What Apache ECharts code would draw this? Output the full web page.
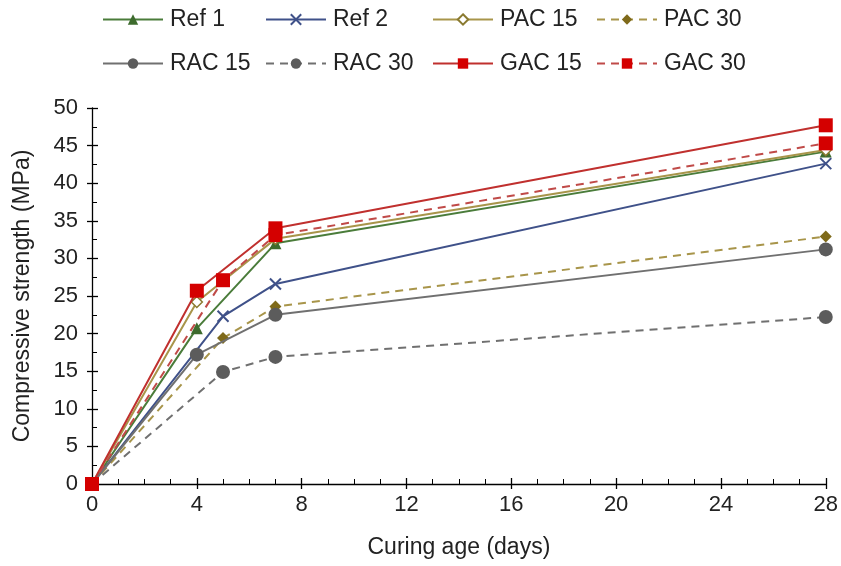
<!DOCTYPE html>
<html>
<head>
<meta charset="utf-8">
<script src="https://cdn.jsdelivr.net/npm/echarts@6/dist/echarts.min.js"></script>
<style>html,body{margin:0;padding:0;background:#fff}#c{width:841px;height:566px}</style>
</head>
<body>
<div id="c"></div>
<script>
// ---- data ----
const ref1Days = [0, 4, 7, 28];
const ref1 = [0, 20.7, 32.0, 44.2];
const ref2Days = [0, 5, 7, 28];
const ref2 = [0, 22.3, 26.6, 42.6];
const pac15Days = [0, 4, 7, 28];
const pac15 = [0, 24.2, 32.6, 44.4];
const pac30Days = [0, 5, 7, 28];
const pac30 = [0, 19.4, 23.6, 32.9];
const rac15Days = [0, 4, 7, 28];
const rac15 = [0, 17.2, 22.5, 31.2];
const rac30Days = [0, 5, 7, 28];
const rac30 = [0, 14.9, 16.9, 22.2];
const gac15Days = [0, 4, 7, 28];
const gac15 = [0, 25.7, 34.0, 47.7];
const gac30Days = [0, 5, 7, 28];
const gac30 = [0, 27.1, 33.1, 45.3];
const seriesNames = ['Ref 1', 'Ref 2', 'PAC 15', 'PAC 30', 'RAC 15', 'RAC 30', 'GAC 15', 'GAC 30'];
const xTitle = 'Curing age (days)';
const yTitle = 'Compressive strength (MPa)';

function pairs(xs, ys) { return xs.map((x, i) => [x, ys[i]]); }

const FONT = 'Liberation Sans';
const X_SYM = 'path://M0,0L10,10M10,0L0,10';

const styles = [
  {line: '#4a7c3a', type: 'solid', symbol: 'triangle', size: 12, fill: '#3d6b2d', border: '#3d6b2d', bw: 0},
  {line: '#3f5189', type: 'solid', symbol: X_SYM, size: 11, fill: 'rgba(0,0,0,0)', border: '#3f5189', bw: 2},
  {line: '#a8954a', type: 'solid', symbol: 'diamond', size: 11, fill: '#ffffff', border: '#8a7a30', bw: 1.5},
  {line: '#a8954a', type: [8, 6], symbol: 'diamond', size: 12, fill: '#7f6a1a', border: '#7f6a1a', bw: 0},
  {line: '#707070', type: 'solid', symbol: 'circle', size: 14, fill: '#5c5c5c', border: '#5c5c5c', bw: 0},
  {line: '#707070', type: [8, 6], symbol: 'circle', size: 14, fill: '#5c5c5c', border: '#5c5c5c', bw: 0},
  {line: '#c0302e', type: 'solid', symbol: 'rect', size: 14, fill: '#d40000', border: '#d40000', bw: 0},
  {line: '#c04a48', type: [8, 6], symbol: 'rect', size: 14, fill: '#d40000', border: '#d40000', bw: 0}
];
const dataSets = [
  pairs(ref1Days, ref1), pairs(ref2Days, ref2), pairs(pac15Days, pac15), pairs(pac30Days, pac30),
  pairs(rac15Days, rac15), pairs(rac30Days, rac30), pairs(gac15Days, gac15), pairs(gac30Days, gac30)
];

const series = seriesNames.map((n, i) => ({
  name: n, type: 'line', xAxisIndex: 0, yAxisIndex: 0,
  data: dataSets[i],
  symbol: styles[i].symbol, symbolSize: styles[i].size, showAllSymbol: true,
  lineStyle: {color: styles[i].line, width: 2, type: styles[i].type},
  itemStyle: {color: styles[i].fill, borderColor: styles[i].border, borderWidth: styles[i].bw, opacity: 1},
  z: 2 + i, animation: false
}));

// legend positions: 2 rows x 4 columns
const colX = [102, 265, 432, 596];
const rowY = [8, 52];
const legends = seriesNames.map((n, i) => ({
  data: [n], left: colX[i % 4], top: rowY[Math.floor(i / 4)],
  itemWidth: 60, itemHeight: 13, itemGap: 0, padding: 0,
  textStyle: {fontFamily: FONT, fontSize: 23, color: '#222', padding: [0, 0, 0, 2]},
  selectedMode: false
}));

const gridRect = {left: 92, right: 15, top: 108, bottom: 82};
const axisLine = {show: true, onZero: false, lineStyle: {color: '#000', width: 1.3}};

const option = {
  backgroundColor: '#fff',
  animation: false,
  legend: legends,
  grid: [Object.assign({}, gridRect), Object.assign({}, gridRect)],
  xAxis: [
    {type: 'value', gridIndex: 0, min: 0, max: 28, interval: 4,
     axisLine: axisLine,
     axisTick: {show: true, inside: true, length: 6, lineStyle: {color: '#000', width: 1.3}},
     minorTick: {show: true, splitNumber: 4, length: 5, lineStyle: {color: '#000', width: 1}},
     splitLine: {show: false}, minorSplitLine: {show: false},
     axisLabel: {fontFamily: FONT, fontSize: 22, color: '#222', margin: 10},
     name: xTitle, nameLocation: 'middle', nameGap: 52,
     nameTextStyle: {fontFamily: FONT, fontSize: 23, color: '#222'}},
    {type: 'value', gridIndex: 1, min: 0, max: 28, interval: 4,
     axisLine: {show: false},
     axisTick: {show: true, inside: false, length: 5, lineStyle: {color: '#000', width: 1.3}},
     axisLabel: {show: false}, splitLine: {show: false}}
  ],
  yAxis: [
    {type: 'value', gridIndex: 0, min: 0, max: 50, interval: 5,
     axisLine: axisLine,
     axisTick: {show: true, inside: true, length: 6, lineStyle: {color: '#000', width: 1.3}},
     minorTick: {show: true, splitNumber: 2, length: 5, lineStyle: {color: '#000', width: 1}},
     splitLine: {show: false}, minorSplitLine: {show: false},
     axisLabel: {fontFamily: FONT, fontSize: 22, color: '#222', margin: 14},
     name: yTitle, nameLocation: 'middle', nameGap: 58, nameRotate: 90,
     nameTextStyle: {fontFamily: FONT, fontSize: 23, color: '#222'}},
    {type: 'value', gridIndex: 1, min: 0, max: 50, interval: 5,
     axisLine: {show: false},
     axisTick: {show: true, inside: false, length: 5, lineStyle: {color: '#000', width: 1.3}},
     axisLabel: {show: false}, splitLine: {show: false}}
  ],
  series: series
};

const chart = echarts.init(document.getElementById('c'), null, {renderer: 'canvas'});
chart.setOption(option);
</script>
</body>
</html>
